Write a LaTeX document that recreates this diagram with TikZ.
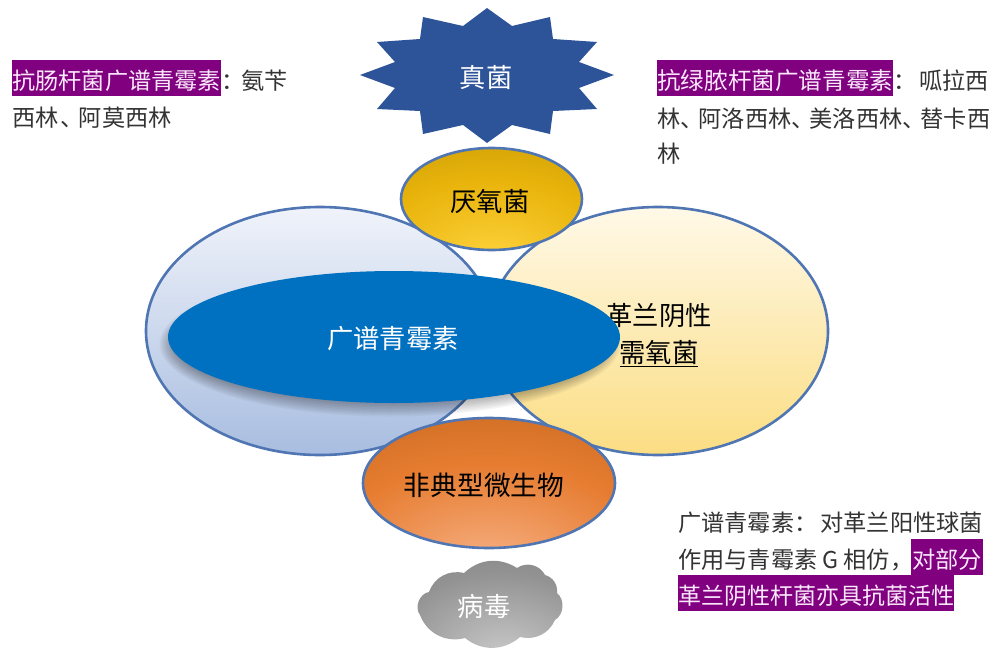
\documentclass[tikz,border=0pt]{standalone}
\usepackage{fontspec}
\setmainfont{Noto Sans CJK SC}
\usetikzlibrary{positioning}
\usetikzlibrary{shapes.geometric}

\definecolor{rimblue}{HTML}{4F75B3}
\definecolor{hlpurple}{HTML}{800080}
\definecolor{hltext}{HTML}{FCE8FC}
\definecolor{coreblue}{HTML}{0070C0}
\definecolor{starmid}{HTML}{3A6CBC}
\definecolor{staredge}{HTML}{2D5398}
\definecolor{skyA}{HTML}{F0F3FA}
\definecolor{skyB}{HTML}{D3DCEE}
\definecolor{skyC}{HTML}{A8BDE0}
\definecolor{creamA}{HTML}{FFF9E8}
\definecolor{creamB}{HTML}{FEEFBE}
\definecolor{creamC}{HTML}{FBDD82}
\definecolor{goldA}{HTML}{FFD43F}
\definecolor{goldB}{HTML}{E8B30A}
\definecolor{goldC}{HTML}{C49A08}
\definecolor{goldD}{HTML}{8F8430}
\definecolor{rustA}{HTML}{F7B084}
\definecolor{rustB}{HTML}{E67C30}
\definecolor{rustC}{HTML}{C0661F}
\definecolor{rustD}{HTML}{A55A24}
\definecolor{greyA}{HTML}{C9C9C9}
\definecolor{greyB}{HTML}{929292}
\definecolor{greyC}{HTML}{737373}

\pgfdeclareradialshading{goldglow}{\pgfpoint{0bp}{-32bp}}{color(0bp)=(goldA); color(32bp)=(goldB); color(58bp)=(goldC); color(74bp)=(goldD); color(100bp)=(goldD)}
\pgfdeclareradialshading{rustglow}{\pgfpoint{0bp}{-32bp}}{color(0bp)=(rustA); color(30bp)=(rustB); color(58bp)=(rustC); color(74bp)=(rustD); color(100bp)=(rustD)}
\pgfdeclareradialshading{greyglow}{\pgfpoint{5bp}{-28bp}}{color(0bp)=(greyA); color(35bp)=(greyB); color(75bp)=(greyC); color(100bp)=(greyC)}

\newcommand{\pause}{、\kern-5pt}

\tikzset{
	bubble/.style={ellipse,draw=rimblue,line width=2.6pt,inner sep=0pt},
	bubbletext/.style={inner sep=0pt,align=center,font=\fontsize{26.3}{37}\selectfont},
	para/.style={inner sep=0pt,anchor=west,text height=29.7pt,text depth=6.3pt,text=black!80,font=\fontsize{23.2}{30}\selectfont},
	hilite/.style={para,fill=hlpurple,text=hltext},
}

\begin{document}
\begin{tikzpicture}[x=1pt,y=-1pt]
\useasboundingbox (0,0) rectangle (998,659);

% the two large circles
\node[bubble,shade,top color=skyA,middle color=skyB,bottom color=skyC,minimum width=348pt,minimum height=248pt] (gramPos) at (320,331) {};
\node[bubble,shade,top color=creamA,middle color=creamB,bottom color=creamC,minimum width=340pt,minimum height=248pt] (gramNeg) at (658,331) {};
\node[bubbletext] (gramNegText) at (659,335) {革兰阴性\\\underline{需氧菌}};

% soft shadow of the blue one
\foreach \i in {1,...,12}
	\fill[black,opacity=0.035] (390,344) ellipse ({232-1.5*\i} and {74-1.5*\i});
\node[ellipse,fill=coreblue,inner sep=0pt,minimum width=452pt,minimum height=132pt] (penicillin) at (394,337) {};
\node[bubbletext,text=white] (penicillinText) at (393,339) {广谱青霉素};

\node[bubble,shade,shading=goldglow,minimum width=181pt,minimum height=102pt] (anaerobe) at (491.5,199) {};
\node[bubbletext] (anaerobeText) at (490,202) {厌氧菌};
\node[bubble,shade,shading=rustglow,minimum width=252pt,minimum height=130pt] (atypical) at (489,483) {};
\node[bubbletext,font=\fontsize{26.7}{37}\selectfont] (atypicalText) at (484,485) {非典型微生物};

% fungi star
\shade[left color=staredge,middle color=starmid,right color=staredge]
	(487,8) -- (512,26) -- (550,17) -- (553,39) -- (597,42) -- (579,62) -- (614,75)
	-- (579,88) -- (597,109) -- (553,111) -- (550,134) -- (512,125) -- (487,143)
	-- (463,125) -- (423,134) -- (420,111) -- (377,109) -- (395,88) -- (360,75)
	-- (395,62) -- (377,42) -- (420,39) -- (423,17) -- (463,26) -- cycle;
\node[bubbletext,text=white] (fungi) at (486,77) {真菌};

% virus cloud
\shade[shading=greyglow]
	(429,592) to[bend left=42] (464,573) to[bend left=38] (517,568) to[bend left=50] (545,575)
	to[bend left=40] (557,593) to[bend left=55] (555,620) to[bend left=40] (520,637)
	to[bend left=40] (465,638) to[bend left=42] (420,615) to[bend left=60] (429,592) -- cycle;
\node[bubbletext,text=white] (virus) at (484,606) {病毒};

% notes
\node[hilite] (leftHead) at (12,78) {抗肠杆菌广谱青霉素};
\node[para,right=0pt of leftHead] (leftTail) {：\kern-3pt 氨苄};
\node[para] (leftNext) at (12,115) {西林\kern2pt\pause 阿莫西林};

\node[hilite,font=\fontsize{23.6}{30}\selectfont] (rightHead) at (657,78) {抗绿脓杆菌广谱青霉素};
\node[para,right=0pt of rightHead] (rightTail) {：\kern2.5pt 呱拉西};
\node[para] (rightNext) at (657,116) {林\pause 阿洛西林\pause 美洛西林\pause 替卡西};
\node[para] (rightLast) at (657,151) {林};

\node[para] (noteOne) at (678,520) {广谱青霉素：\kern3pt 对革兰阳性球菌};
\node[para] (noteTwo) at (678,557) {作用与青霉素 G 相仿，};
\node[hilite,minimum width=72pt] (noteHead) at (911,556.5) {对部分};
\node[hilite,font=\fontsize{23}{30}\selectfont] (noteTail) at (678,593) {革兰阴性杆菌亦具抗菌活性};
\end{tikzpicture}
\end{document}
